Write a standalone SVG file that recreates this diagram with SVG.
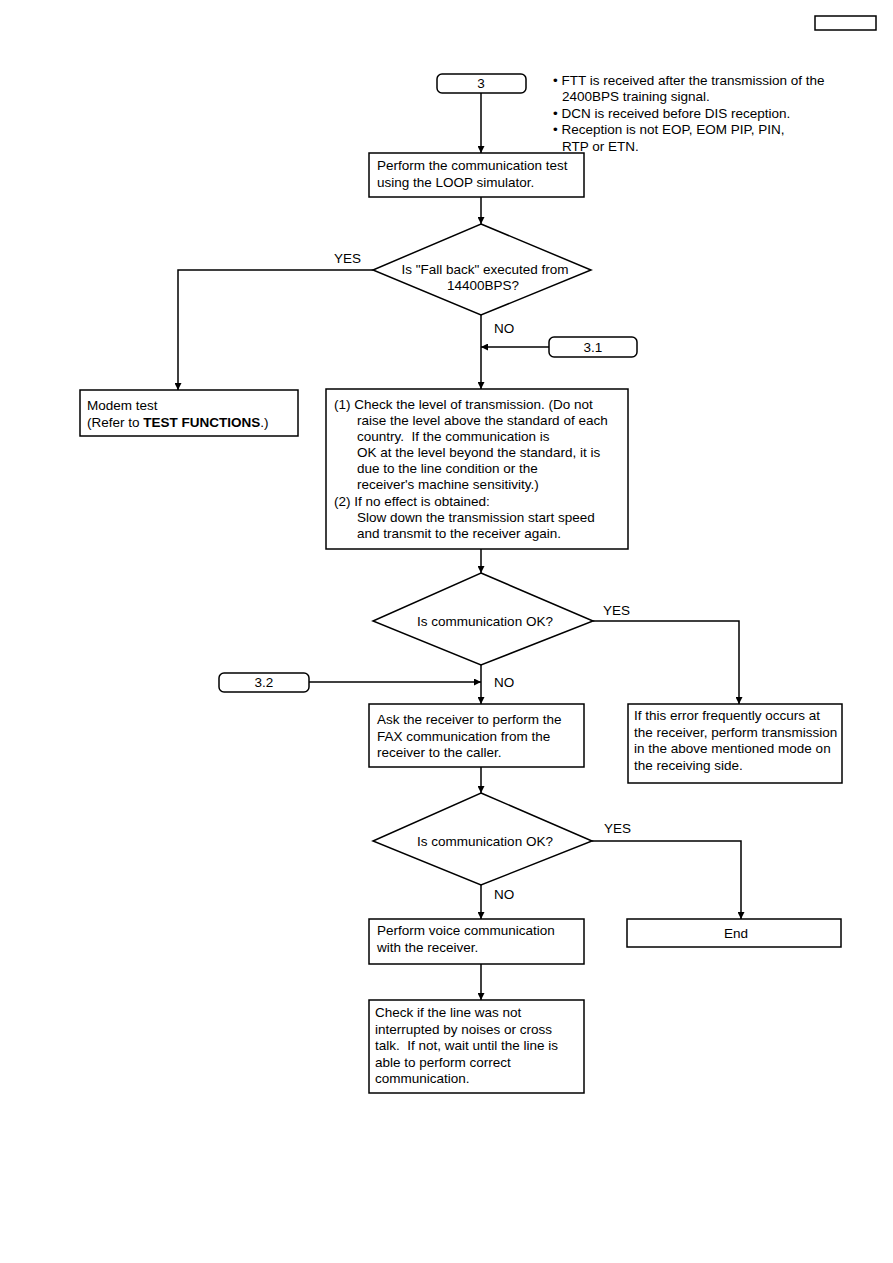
<svg xmlns="http://www.w3.org/2000/svg" width="893" height="1263" viewBox="0 0 893 1263">
<defs>
<marker id="ah" viewBox="0 0 10 10" refX="10" refY="5" markerWidth="7" markerHeight="7" markerUnits="userSpaceOnUse" orient="auto">
<path d="M0,0 L10,5 L0,10 z" fill="#000"/>
</marker>
<style>
.b{fill:#fff;stroke:#000;stroke-width:1.5}
.t{font-family:"Liberation Sans",Arial,sans-serif;font-size:13.5px;fill:#000;white-space:pre}
.c{text-anchor:middle}
.l{fill:none;stroke:#000;stroke-width:1.5}
.a{marker-end:url(#ah)}
</style>
</defs>
<rect width="893" height="1263" fill="#fff"/>
<rect x="815" y="16" width="61" height="14" fill="none" stroke="#000" stroke-width="1.5"/>

<g id="connectors">
<path class="l a" d="M481,93 V153"/>
<path class="l a" d="M481,197 V224"/>
<path class="l a" d="M373,270 H178 V390"/>
<path class="l a" d="M481,315 V389"/>
<path class="l a" d="M549,347 H481"/>
<path class="l a" d="M481,549 V573"/>
<path class="l a" d="M593,621 H739 V704"/>
<path class="l a" d="M309,682 H481"/>
<path class="l a" d="M481,665 V704"/>
<path class="l a" d="M481,767 V793"/>
<path class="l a" d="M592,841 H741 V919"/>
<path class="l a" d="M481,885 V919"/>
<path class="l a" d="M481,964 V1000"/>
<text class="t" x="334" y="263">YES</text>
<text class="t" x="494" y="333">NO</text>
<text class="t" x="603" y="615">YES</text>
<text class="t" x="494" y="687">NO</text>
<text class="t" x="604" y="833">YES</text>
<text class="t" x="494" y="899">NO</text>
</g>

<g id="n3">
<rect class="b" x="437" y="74" width="89" height="19" rx="5"/>
<text class="t c" x="481" y="88">3</text>
</g>
<g id="notes">
<text class="t" x="553" y="85">• FTT is received after the transmission of the</text>
<text class="t" x="562" y="101">2400BPS training signal.</text>
<text class="t" x="553" y="118">• DCN is received before DIS reception.</text>
<text class="t" x="553" y="134">• Reception is not EOP, EOM PIP, PIN,</text>
<text class="t" x="562" y="151">RTP or ETN.</text>
</g>
<g id="loop">
<rect class="b" x="369" y="153" width="215" height="44"/>
<text class="t" x="377" y="170">Perform the communication test</text>
<text class="t" x="377" y="187">using the LOOP simulator.</text>
</g>
<g id="d1">
<polygon class="b" points="481,224 591,270 481,315 373,270"/>
<text class="t c" x="485" y="274">Is "Fall back" executed from</text>
<text class="t c" x="483" y="290">14400BPS?</text>
</g>
<g id="n31">
<rect class="b" x="549" y="337" width="88" height="20" rx="5"/>
<text class="t c" x="593" y="352">3.1</text>
</g>
<g id="modem">
<rect class="b" x="80" y="390" width="218" height="46"/>
<text class="t" x="87" y="410">Modem test</text>
<text class="t" x="87" y="427">(Refer to <tspan font-weight="bold">TEST FUNCTIONS</tspan>.)</text>
</g>
<g id="check">
<rect class="b" x="326" y="389" width="302" height="160"/>
<text class="t" x="334" y="409">(1) Check the level of transmission. (Do not</text>
<text class="t" x="357" y="425">raise the level above the standard of each</text>
<text class="t" x="357" y="441">country.  If the communication is</text>
<text class="t" x="357" y="457">OK at the level beyond the standard, it is</text>
<text class="t" x="357" y="473">due to the line condition or the</text>
<text class="t" x="357" y="489">receiver's machine sensitivity.)</text>
<text class="t" x="334" y="506">(2) If no effect is obtained:</text>
<text class="t" x="357" y="522">Slow down the transmission start speed</text>
<text class="t" x="357" y="538">and transmit to the receiver again.</text>
</g>
<g id="d2">
<polygon class="b" points="481,573 593,621 481,665 373,621"/>
<text class="t c" x="485" y="626">Is communication OK?</text>
</g>
<g id="n32">
<rect class="b" x="219" y="673" width="90" height="19" rx="5"/>
<text class="t c" x="264" y="687">3.2</text>
</g>
<g id="ask">
<rect class="b" x="369" y="704" width="215" height="63"/>
<text class="t" x="377" y="724">Ask the receiver to perform the</text>
<text class="t" x="377" y="741">FAX communication from the</text>
<text class="t" x="377" y="757">receiver to the caller.</text>
</g>
<g id="freq">
<rect class="b" x="628" y="704" width="214" height="79"/>
<text class="t" x="634" y="720">If this error frequently occurs at</text>
<text class="t" x="634" y="737">the receiver, perform transmission</text>
<text class="t" x="634" y="753">in the above mentioned mode on</text>
<text class="t" x="634" y="770">the receiving side.</text>
</g>
<g id="d3">
<polygon class="b" points="481,793 592,841 481,885 373,841"/>
<text class="t c" x="485" y="846">Is communication OK?</text>
</g>
<g id="voice">
<rect class="b" x="369" y="919" width="215" height="45"/>
<text class="t" x="377" y="935">Perform voice communication</text>
<text class="t" x="377" y="952">with the receiver.</text>
</g>
<g id="end">
<rect class="b" x="627" y="919" width="214" height="28"/>
<text class="t c" x="736" y="938">End</text>
</g>
<g id="line">
<rect class="b" x="369" y="1000" width="215" height="93"/>
<text class="t" x="375" y="1017">Check if the line was not</text>
<text class="t" x="375" y="1034">interrupted by noises or cross</text>
<text class="t" x="375" y="1050">talk.  If not, wait until the line is</text>
<text class="t" x="375" y="1067">able to perform correct</text>
<text class="t" x="375" y="1083">communication.</text>
</g>
</svg>
